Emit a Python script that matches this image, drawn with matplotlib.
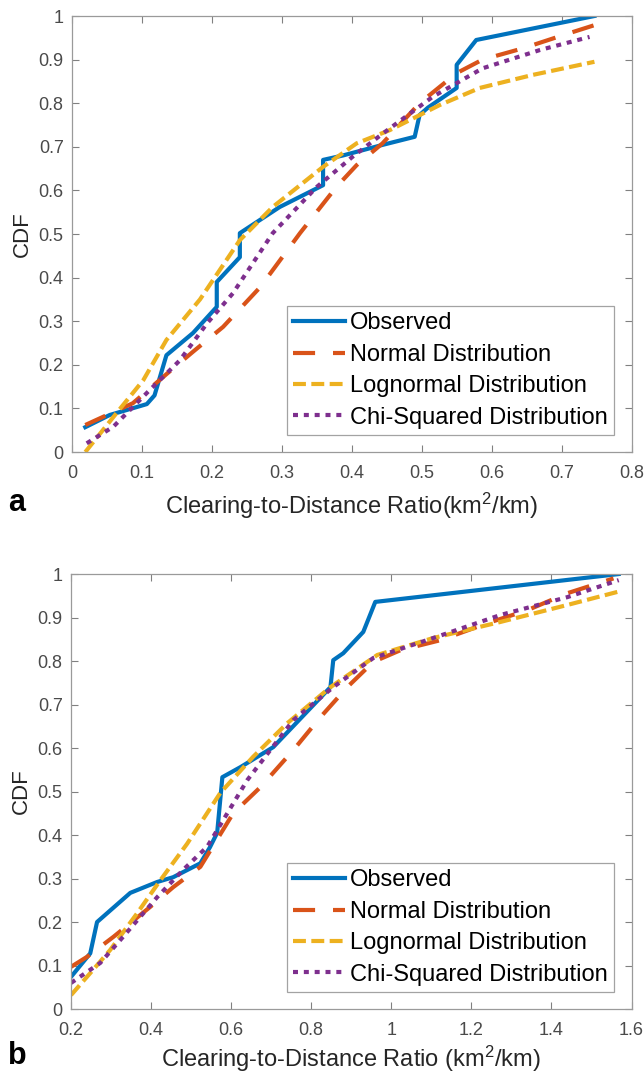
import matplotlib
matplotlib.use('Agg')
import matplotlib.pyplot as plt

plt.rcParams['font.family'] = ['Liberation Sans', 'DejaVu Sans']
plt.rcParams['mathtext.fontset'] = 'custom'
plt.rcParams['mathtext.rm'] = 'Liberation Sans'
plt.rcParams['mathtext.it'] = 'Liberation Sans'

# (a) clearing-to-distance ratio, panel a
obs_a_x = [0.019, 0.054, 0.107, 0.118, 0.135, 0.173, 0.207, 0.207, 0.24, 0.24, 0.297,
           0.359, 0.359, 0.387, 0.443, 0.49, 0.497, 0.509, 0.55, 0.55, 0.578, 0.747]
obs_a_y = [0.057, 0.085, 0.11, 0.13, 0.222, 0.273, 0.333, 0.39, 0.447, 0.502, 0.562,
           0.612, 0.67, 0.68, 0.704, 0.723, 0.773, 0.79, 0.835, 0.888, 0.945, 1.0]
norm_a_x = [0.019, 0.087, 0.136, 0.173, 0.216, 0.269, 0.326, 0.378, 0.407, 0.444,
            0.497, 0.55, 0.587, 0.645, 0.702, 0.747]
norm_a_y = [0.062, 0.112, 0.18, 0.23, 0.287, 0.378, 0.502, 0.608, 0.658, 0.708,
            0.80, 0.869, 0.9, 0.926, 0.956, 0.979]
logn_a_x = [0.019, 0.064, 0.102, 0.135, 0.183, 0.24, 0.287, 0.359, 0.407, 0.454,
            0.526, 0.583, 0.659, 0.747]
logn_a_y = [0.0, 0.09, 0.165, 0.257, 0.35, 0.486, 0.562, 0.654, 0.708, 0.738,
            0.796, 0.835, 0.865, 0.895]
chi_a_x = [0.021, 0.059, 0.111, 0.154, 0.193, 0.23, 0.287, 0.35, 0.401, 0.444,
           0.516, 0.587, 0.669, 0.74]
chi_a_y = [0.02, 0.058, 0.142, 0.21, 0.295, 0.364, 0.502, 0.608, 0.677, 0.73,
           0.815, 0.88, 0.922, 0.952]

# (b) panel b
obs_b_x = [0.2, 0.248, 0.265, 0.348, 0.415, 0.455, 0.523, 0.547, 0.565, 0.578, 0.623,
           0.705, 0.848, 0.855, 0.88, 0.93, 0.96, 1.568]
obs_b_y = [0.074, 0.128, 0.2, 0.267, 0.292, 0.303, 0.335, 0.372, 0.405, 0.533, 0.556,
           0.602, 0.74, 0.802, 0.818, 0.867, 0.936, 1.0]
norm_b_x = [0.2, 0.24, 0.306, 0.398, 0.455, 0.523, 0.605, 0.673, 0.755, 0.823, 0.89,
            0.955, 1.023, 1.123, 1.24, 1.34, 1.44, 1.555]
norm_b_y = [0.097, 0.12, 0.166, 0.235, 0.28, 0.327, 0.45, 0.51, 0.595, 0.671, 0.74,
            0.798, 0.825, 0.848, 0.887, 0.917, 0.956, 0.99]
logn_b_x = [0.2, 0.255, 0.298, 0.365, 0.423, 0.49, 0.573, 0.655, 0.74, 0.848, 0.965,
            1.105, 1.273, 1.44, 1.565]
logn_b_y = [0.032, 0.09, 0.136, 0.22, 0.296, 0.38, 0.497, 0.58, 0.657, 0.74, 0.814,
            0.853, 0.89, 0.929, 0.959]
chi_b_x = [0.2, 0.273, 0.33, 0.415, 0.48, 0.54, 0.64, 0.755, 0.855, 0.955, 1.105,
           1.273, 1.44, 1.568]
chi_b_y = [0.06, 0.106, 0.166, 0.257, 0.32, 0.373, 0.526, 0.664, 0.74, 0.807, 0.853,
           0.906, 0.947, 0.986]

labels = ['Observed', 'Normal Distribution', 'Lognormal Distribution', 'Chi-Squared Distribution']
colors = ['#0072BD', '#D95319', '#EDB120', '#7E2F8E']
tick_gray = '#4a4a4a'


def draw_panel(ax, series, xlim, xticks, xlabel, xpad):
    (ox, oy), (nx, ny), (lx, ly), (cx, cy) = series
    ax.plot(ox, oy, '-', color=colors[0], lw=3, label=labels[0])
    ax.plot(nx, ny, color=colors[1], lw=3, dashes=(5.3, 4.3), label=labels[1])
    ax.plot(lx, ly, color=colors[2], lw=3, dashes=(3.1, 1.3), label=labels[2])
    ax.plot(cx, cy, color=colors[3], lw=3, dashes=(1.2, 1.4), dash_capstyle='butt',
            label=labels[3])
    ax.set_xlim(*xlim)
    ax.set_ylim(0, 1)
    ax.set_xticks(xticks)
    ax.set_xticklabels(['%g' % t for t in xticks])
    ax.set_yticks([i / 10 for i in range(11)])
    ax.set_yticklabels(['%g' % (i / 10) for i in range(11)])
    ax.tick_params(direction='in', length=5, width=0.8, colors='#808080',
                   labelcolor=tick_gray, labelsize=13, top=True, right=True)
    ax.tick_params(axis='x', pad=9)
    ax.tick_params(axis='y', pad=6)
    for s in ax.spines.values():
        s.set_color('#9a9a9a')
        s.set_linewidth(0.9)
    ax.set_ylabel('CDF', fontsize=16, color='#262626', labelpad=4)
    ax.set_xlabel(xlabel, fontsize=17, color='#262626', labelpad=xpad)
    leg = ax.legend(loc='lower right', bbox_to_anchor=(0.968, 0.04), fontsize=17,
                    frameon=True, fancybox=False, edgecolor='#8c8c8c',
                    handlelength=2.2, handletextpad=0.2, labelspacing=0.4,
                    borderpad=0.25, borderaxespad=0)
    leg.get_frame().set_linewidth(0.9)


fig = plt.figure(figsize=(6.44, 10.74), dpi=100)
ax_a = fig.add_axes([0.1118, 0.5791, 0.8688, 0.4060])
ax_b = fig.add_axes([0.1103, 0.0605, 0.8703, 0.4050])

draw_panel(ax_a, [(obs_a_x, obs_a_y), (norm_a_x, norm_a_y), (logn_a_x, logn_a_y),
                  (chi_a_x, chi_a_y)],
           (0, 0.8), [0, 0.1, 0.2, 0.3, 0.4, 0.5, 0.6, 0.7, 0.8],
           r'Clearing-to-Distance Ratio(km$^2$/km)', 7)
draw_panel(ax_b, [(obs_b_x, obs_b_y), (norm_b_x, norm_b_y), (logn_b_x, logn_b_y),
                  (chi_b_x, chi_b_y)],
           (0.2, 1.6), [0.2, 0.4, 0.6, 0.8, 1.0, 1.2, 1.4, 1.6],
           r'Clearing-to-Distance Ratio (km$^2$/km)', 4)

# panel letters
fig.text(8 / 644, 1 - 503 / 1074, 'a', fontsize=22, fontweight='bold', ha='left', va='center')
fig.text(8 / 644, 1 - 1056 / 1074, 'b', fontsize=22, fontweight='bold', ha='left', va='center')

fig.savefig('out.png', dpi=100)
